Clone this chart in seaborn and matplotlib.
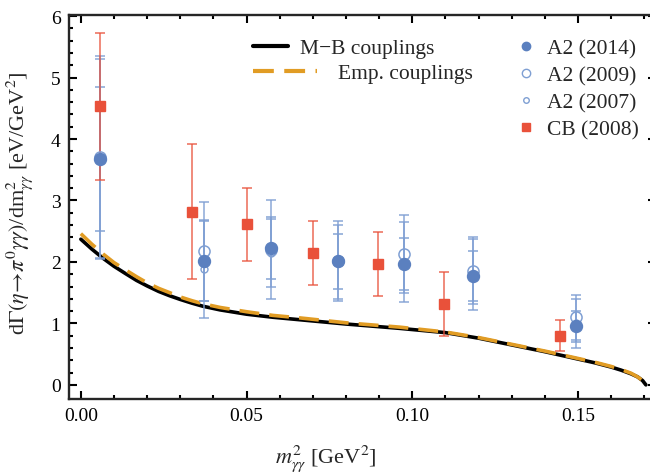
import numpy as np
import pandas as pd
import matplotlib
matplotlib.use('Agg')
import matplotlib.pyplot as plt
import seaborn as sns
from matplotlib.lines import Line2D

# theory curves
m2_curve = [0.0, 0.0033, 0.0067, 0.01, 0.0135, 0.0168, 0.02, 0.0235, 0.0268,
            0.03, 0.0335, 0.0368, 0.042, 0.05, 0.058, 0.066, 0.08, 0.0961,
            0.11, 0.12, 0.13, 0.14, 0.15, 0.155, 0.16, 0.163, 0.166, 0.168,
            0.1695, 0.1705]
mb_couplings = [2.37, 2.21, 2.06, 1.93, 1.81, 1.70, 1.61, 1.52, 1.45,
                1.39, 1.33, 1.28, 1.22, 1.15, 1.10, 1.06, 0.99, 0.92,
                0.85, 0.76, 0.65, 0.54, 0.42, 0.36, 0.29, 0.24, 0.18, 0.13,
                0.07, 0.0]
emp_couplings = [2.46, 2.29, 2.13, 1.99, 1.87, 1.76, 1.66, 1.57, 1.50,
                 1.43, 1.37, 1.32, 1.26, 1.19, 1.13, 1.09, 1.01, 0.94,
                 0.86, 0.77, 0.66, 0.55, 0.43, 0.37, 0.30, 0.25, 0.19, 0.13,
                 0.07, -0.02]

# A2 data (same bins for all three releases)
m2_a2 = [0.0057, 0.0373, 0.0574, 0.0775, 0.0974, 0.1184, 0.1495]
a2_2014 = [3.67, 2.02, 2.23, 2.01, 1.97, 1.77, 0.95]
a2_2014_err = [1.17, 0.65, 0.50, 0.45, 0.42, 0.40, 0.25]
a2_2009 = [3.70, 2.17, 2.20, 2.02, 2.13, 1.86, 1.10]
a2_2009_err = [1.65, 0.80, 0.80, 0.65, 0.64, 0.55, 0.37]
a2_2007 = [3.68, 1.89, 2.15, 2.00, 2.00, 1.80, 1.00]
a2_2007_err = [1.62, 0.80, 0.55, 0.60, 0.65, 0.58, 0.40]

# Crystal Ball data
m2_cb = [0.0057, 0.0336, 0.0501, 0.0700, 0.0898, 0.1097, 0.1446]
cb_2008 = [4.53, 2.82, 2.61, 2.15, 1.96, 1.32, 0.80]
cb_2008_err = [1.20, 1.10, 0.60, 0.52, 0.52, 0.52, 0.25]

blue = '#5b80bf'
blue_err = '#7f9fd3'
red = '#e9513a'
orange = '#e19c24'

sns.set_style('ticks')
plt.rcParams['font.family'] = ['Liberation Serif', 'DejaVu Serif']
plt.rcParams['mathtext.fontset'] = 'stix'

fig = plt.figure(figsize=(6.5, 4.77), dpi=100)
ax = fig.add_axes([0.106, 0.1614, 0.903, 0.806])

curves = pd.DataFrame({'m2': m2_curve, 'mb': mb_couplings, 'emp': emp_couplings})
sns.lineplot(data=curves, x='m2', y='mb', color='black', lw=2.6, ax=ax)
sns.lineplot(data=curves, x='m2', y='emp', color=orange, lw=2.6, ax=ax)
ax.lines[-1].set_dashes([5.5, 2.8])

# error bars
ebar = dict(fmt='none', elinewidth=1.1, capsize=3.5, capthick=1.1)
ax.errorbar(m2_a2, a2_2009, yerr=a2_2009_err, ecolor=blue_err, alpha=0.9, **ebar)
ax.errorbar(m2_a2, a2_2007, yerr=a2_2007_err, ecolor=blue_err, alpha=0.9, **ebar)
ax.errorbar(m2_a2, a2_2014, yerr=a2_2014_err, ecolor=blue_err, alpha=0.95, **ebar)
ax.errorbar(m2_cb, cb_2008, yerr=cb_2008_err, ecolor=red, alpha=0.85, **ebar)

# markers
ax.plot(m2_a2, a2_2009, 'o', ms=8, mfc='none', mec=blue_err, mew=1.1)
ax.plot(m2_a2, a2_2007, 'o', ms=5, mfc='none', mec=blue_err, mew=1.0)
ax.plot(m2_cb, cb_2008, 's', ms=6.8, color=red, mec=red)
ax.plot(m2_a2, a2_2014, 'o', ms=8.6, color=blue, mec=blue)

ax.set_xlim(-0.0036, 0.1735)
ax.set_ylim(-0.23, 6.025)
ax.set_xticks([0.0, 0.05, 0.10, 0.15])
ax.set_xticklabels(['0.00', '0.05', '0.10', '0.15'])
ax.set_xticks(np.arange(0, 0.171, 0.01), minor=True)
ax.set_yticks([0, 1, 2, 3, 4, 5, 6])
ax.set_yticks(np.arange(0, 6.01, 0.2), minor=True)
ax.tick_params(which='both', direction='in', top=True, right=True,
               labelsize=14, colors='black', width=1.5)
ax.tick_params(which='major', length=6, pad=6)
ax.tick_params(which='minor', length=3)
for s in ax.spines.values():
    s.set_linewidth(1.7)

ax.set_xlabel(r'$m^2_{\gamma\gamma}$ [GeV$^2$]', fontsize=16)
ax.xaxis.set_label_coords(0.438, -0.112)
ax.set_ylabel(r'd$\Gamma(\eta\!\rightarrow\!\pi^0\gamma\gamma)$/dm$^2_{\gamma\gamma}$ [eV/GeV$^2$]',
              fontsize=16)
ax.yaxis.set_label_coords(-0.058, 0.512)

# line legends (the dashed entry sits further right in the original)
leg_mb = ax.legend([Line2D([], [], color='black', lw=3)], ['M\u2212B couplings'],
                   loc='center left', bbox_to_anchor=(0.313, 0.912), frameon=False,
                   fontsize=15.5, handlelength=1.65, handletextpad=0.55,
                   borderpad=0, borderaxespad=0)
ax.add_artist(leg_mb)
leg_emp = ax.legend([Line2D([], [], color=orange, lw=3, dashes=[5, 2.5])], ['Emp. couplings'],
                    loc='center left', bbox_to_anchor=(0.313, 0.847), frameon=False,
                    fontsize=15.5, handlelength=3.0, handletextpad=0.95,
                    borderpad=0, borderaxespad=0)
ax.add_artist(leg_emp)

h2 = [Line2D([], [], ls='none', marker='o', ms=6, color=blue),
      Line2D([], [], ls='none', marker='o', ms=6, mfc='none', mec=blue_err),
      Line2D([], [], ls='none', marker='o', ms=4, mfc='none', mec=blue_err),
      Line2D([], [], ls='none', marker='s', ms=5.5, color=red)]
ax.legend(h2, ['A2 (2014)', 'A2 (2009)', 'A2 (2007)', 'CB (2008)'], loc='upper left',
          bbox_to_anchor=(0.76, 0.938), frameon=False, fontsize=15.5,
          handlelength=1.0, handletextpad=0.5, labelspacing=0.33,
          borderpad=0, borderaxespad=0)

fig.savefig('out.png', dpi=100)
